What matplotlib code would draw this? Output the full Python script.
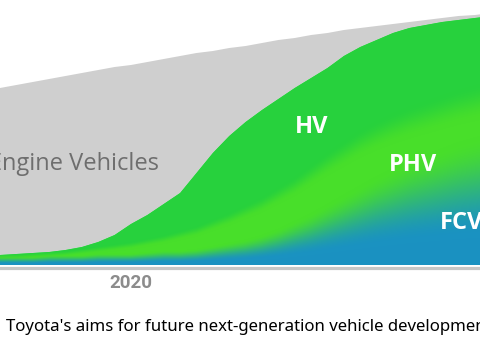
import numpy as np
import matplotlib
matplotlib.use("Agg")
import matplotlib.pyplot as plt

# ---------------------------------------------
# data (arbitrary units)
# ---------------------------------------------
years = list(range(2012, 2043))

fcv = [2, 2, 2, 3, 3, 3, 4, 4, 4, 5, 6, 6, 7, 9, 11, 13, 16, 20, 25, 30,
       36, 42, 48, 54, 59, 64, 68, 72, 76, 79, 82]
phv = [4, 4, 5, 5, 6, 8, 9, 11, 13, 15, 17, 21, 24, 28, 32, 37, 41, 46, 50,
       56, 61, 65, 69, 71, 73, 74, 75, 76, 77, 78, 79]
hv = [4, 5, 5, 5, 6, 7, 10, 15, 24, 30, 38, 45, 61, 75, 86, 93, 98, 100,
      102, 101, 100, 102, 101, 100, 100, 99, 97, 95, 92, 90, 88]
engine = [167, 169, 171, 173, 174, 174, 172, 168, 159, 153, 145, 137, 120,
          102, 88, 76, 67, 59, 50, 43, 35, 26, 19, 14, 9, 6, 5, 4, 4, 3, 3]

series_names = ["Engine Vehicles", "HV", "PHV", "FCV"]
tick_years = [2020]
caption = "Toyota's aims for future next-generation vehicle development"

# colours
gris = "#CFCFCF"
verde_hv = "#27D13D"
verde_phv = "#48DF2A"
azul_fcv = "#1A92C2"

# ---------------------------------------------
# figure
# ---------------------------------------------
fig = plt.figure(figsize=(4.8, 3.47), dpi=100)
ax = fig.add_axes([0, 0, 1, 1])
k = 131 / 8  # px per year
x0, x1 = 2012, 2012 + 480 / k
y0, y1 = -82, 265
ax.set_xlim(x0, x1)
ax.set_ylim(y0, y1)
ax.axis("off")

yr = np.array(years, dtype=float)
c_fcv = np.array(fcv, dtype=float)
c_phv = c_fcv + np.array(phv)
c_hv = c_phv + np.array(hv)
c_tot = c_hv + np.array(engine)

# gray engine area
ax.fill_between(yr, c_hv, c_tot, color=gris, lw=0)
# green base for the electrified part
poly = ax.fill_between(yr, 0, c_hv, color=verde_hv, lw=0)

# soft gradient HV -> PHV -> FCV, clipped to the electrified area
W, H = 480, 280
gx = np.linspace(x0, x1, W)
gy = np.linspace(0, 280, H)
XX, YY = np.meshgrid(gx, gy)
f_top = np.interp(XX, yr, c_fcv)
p_top = np.interp(XX, yr, c_phv)


def smooth(e0, e1, v):
    t = np.clip((v - e0) / np.maximum(e1 - e0, 1e-6), 0, 1)
    return t * t * (3 - 2 * t)


B = np.array(matplotlib.colors.to_rgb(azul_fcv))
L = np.array(matplotlib.colors.to_rgb(verde_phv))
G = np.array(matplotlib.colors.to_rgb(verde_hv))
a = smooth(f_top * 0.35, f_top * 1.55 + 5, YY)[..., None]
b = smooth(p_top * 0.92, p_top * 1.12 + 4, YY)[..., None]
img = B * (1 - a) + L * a
img = img * (1 - b) + G * b
im = ax.imshow(img, origin="lower", extent=(x0, x1, 0, 280),
               aspect="auto", interpolation="bilinear", zorder=2)
im.set_clip_path(poly.get_paths()[0], transform=ax.transData)

# base line
ax.axhline(-2.5, color="#C6C6C6", lw=2.3, zorder=3)

# labels
ax.text(2011.35, 101, series_names[0], fontsize=17, color="#6E6E6E",
        family="Open Sans", va="center", ha="left")
ax.text(2031.05, 138, series_names[1], fontsize=17, color="white",
        family="Open Sans", weight="bold", va="center", ha="center")
ax.text(2037.2, 100, series_names[2], fontsize=17, color="white",
        family="Open Sans", weight="bold", va="center", ha="center")
ax.text(2038.87, 42, series_names[3], fontsize=17, color="white",
        family="Open Sans", weight="bold", va="center", ha="left")

for t in tick_years:
    ax.text(t, -18, str(t), fontsize=13.5, color="#8C8C8C",
            family="Roboto", weight="bold", va="center", ha="center")

fig.text(6 / 480, 1 - 327 / 347, caption, fontsize=12.1, color="black",
         family="Noto Sans", va="center", ha="left")

fig.savefig("out.png", dpi=100)
